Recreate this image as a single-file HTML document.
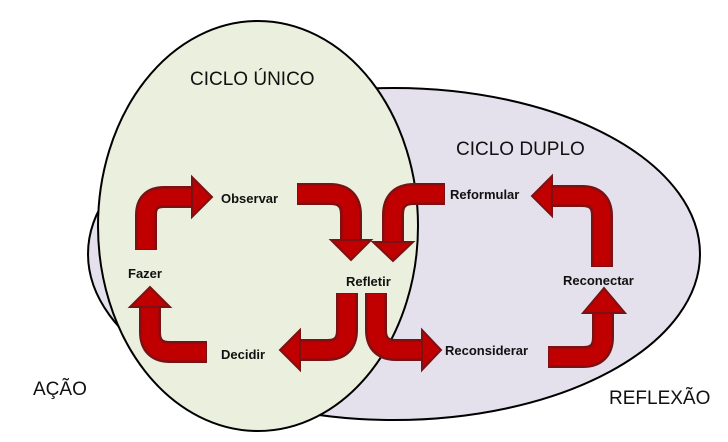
<!DOCTYPE html>
<html><head><meta charset="utf-8"><style>
body{margin:0;background:#fff}
svg{display:block}
text{font-family:"Liberation Sans",sans-serif}
.b{font-weight:bold;font-size:13px;fill:#111}
.t{font-size:19px;fill:#111}
</style></head><body>
<svg width="728" height="442" viewBox="0 0 728 442">
<ellipse cx="394" cy="254" rx="306" ry="166" fill="#e4e0ec" stroke="#000" stroke-width="2"/>
<ellipse cx="258" cy="226" rx="160" ry="205" fill="#ebefdd" stroke="#000" stroke-width="2"/>
<g fill="none" stroke-linecap="butt">
<g stroke="#7b1113" stroke-width="22">
<path d="M146,250 L146,215 Q146,197 164,197 L193,197"/>
<path d="M297,194 L330,194 Q351,194 351,215 L351,241"/>
<path d="M445,194 L414,194 Q393,194 393,215 L393,243"/>
<path d="M347,293 L347,330 Q347,350 327,350 L299,350"/>
<path d="M376,293 L376,330 Q376,350 396,350 L423,350"/>
<path d="M207,352 L170,352 Q150,352 150,332 L150,306"/>
<path d="M548,357 L583,357 Q603,357 603,337 L603,312"/>
<path d="M602,267 L602,216 Q602,196 582,196 L551,196"/>
</g>
<g stroke="#c00000" stroke-width="17">
<path d="M146,249 L146,215 Q146,197 164,197 L194,197"/>
<path d="M298,194 L330,194 Q351,194 351,215 L351,242"/>
<path d="M444,194 L414,194 Q393,194 393,215 L393,244"/>
<path d="M347,294 L347,330 Q347,350 327,350 L298,350"/>
<path d="M376,294 L376,330 Q376,350 396,350 L424,350"/>
<path d="M206,352 L170,352 Q150,352 150,332 L150,305"/>
<path d="M549,357 L583,357 Q603,357 603,337 L603,311"/>
<path d="M602,266 L602,216 Q602,196 582,196 L550,196"/>
</g>
</g>
<g fill="#c00000" stroke="#7b1113" stroke-width="2" stroke-linejoin="miter">
<polygon points="192,177 212,197 192,217"/>
<polygon points="331,240 351,260 371,240"/>
<polygon points="373,242 393,261 413,242"/>
<polygon points="300,330 280,350 300,370"/>
<polygon points="422,330 441,350 422,370"/>
<polygon points="130,307 150,287 170,307"/>
<polygon points="583,313 604,288 625,313"/>
<polygon points="552,176 532,196 552,216"/>
</g>
<text class="t" x="190" y="85">CICLO ÚNICO</text>
<text class="t" x="456" y="155">CICLO DUPLO</text>
<text class="t" x="33" y="395">AÇÃO</text>
<text class="t" x="609" y="404">REFLEXÃO</text>
<text class="b" x="221" y="203">Observar</text>
<text class="b" x="346" y="286">Refletir</text>
<text class="b" x="450" y="199">Reformular</text>
<text class="b" x="128" y="278">Fazer</text>
<text class="b" x="221" y="359">Decidir</text>
<text class="b" x="445" y="355">Reconsiderar</text>
<text class="b" x="563" y="285">Reconectar</text>
</svg>
</body></html>
